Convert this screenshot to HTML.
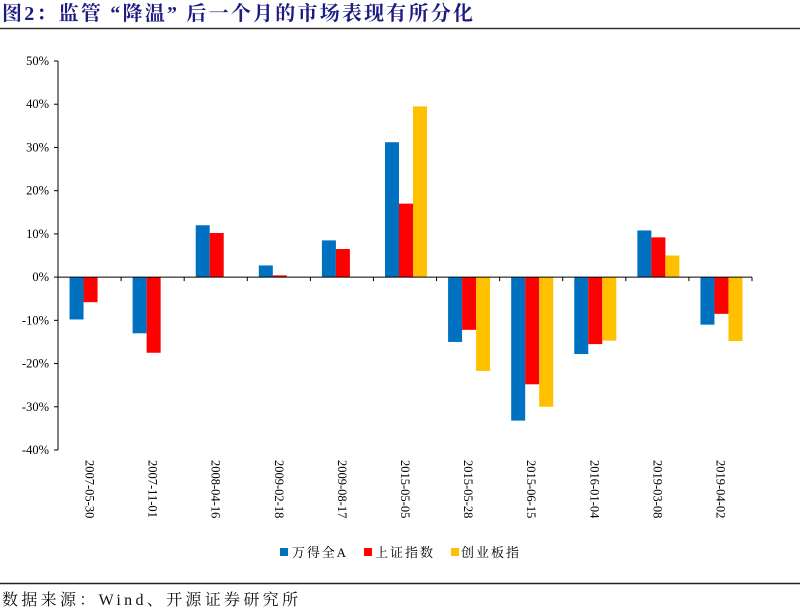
<!DOCTYPE html>
<html><head><meta charset="utf-8"><style>
body{margin:0;background:#fff;width:800px;height:611px;overflow:hidden;font-family:"Liberation Serif","Noto Serif CJK SC",serif;}
</style></head><body>
<svg width="800" height="611" viewBox="0 0 800 611" xmlns="http://www.w3.org/2000/svg">
<text x="2" y="20" font-size="20" font-weight="bold" fill="#1b1b82" textLength="471" lengthAdjust="spacing" font-family="Liberation Serif, Noto Serif CJK SC, serif">图2：监管 “降温” 后一个月的市场表现有所分化</text>
<line x1="0" y1="28.5" x2="800" y2="28.5" stroke="#333" stroke-width="1.5"/>
<g id="plot"></g>
<g>
<g><rect x="280" y="548" width="8" height="8" fill="#0070C0"/><text x="292" y="557" font-size="13" textLength="54" lengthAdjust="spacing">万得全A</text></g>
<g><rect x="364" y="548" width="8" height="8" fill="#FF0000"/><text x="375" y="557" font-size="13" textLength="58" lengthAdjust="spacing">上证指数</text></g>
<g><rect x="451" y="548" width="8" height="8" fill="#FFC000"/><text x="461" y="557" font-size="13" textLength="58" lengthAdjust="spacing">创业板指</text></g>
</g>
<line x1="0" y1="583.5" x2="800" y2="583.5" stroke="#222" stroke-width="1.5"/>
<text x="2" y="605" font-size="16" fill="#111" textLength="296" lengthAdjust="spacing">数据来源：Wind、开源证券研究所</text>
</svg>
<script>
const categories=["2007-05-30","2007-11-01","2008-04-16","2009-02-18","2009-08-17","2015-05-05","2015-05-28","2015-06-15","2016-01-04","2019-03-08","2019-04-02"];
const wandeA=[-9.8,-13,12,2.7,8.5,31.2,-15,-33.2,-17.8,10.8,-11];
const shanghai=[-5.8,-17.5,10.2,0.4,6.5,17,-12.2,-24.8,-15.5,9.2,-8.5];
const chinext=[null,null,null,null,null,39.5,-21.7,-30,-14.7,5,-14.8];
const yTicks=[50,40,30,20,10,0,-10,-20,-30,-40];
const NS="http://www.w3.org/2000/svg";
const g=document.getElementById('plot');
const x0=58,x1=752,yTop=61,yBot=450,vMax=50,vMin=-40;
function y(v){return yTop+(vMax-v)*(yBot-yTop)/(vMax-vMin);}
const bw=(x1-x0)/categories.length;
function mk(t,a){const e=document.createElementNS(NS,t);for(const k in a)e.setAttribute(k,a[k]);g.appendChild(e);return e;}
let ax=mk('line',{x1:x0,y1:yTop,x2:x0,y2:yBot,stroke:'#000','stroke-width':1});


yTicks.forEach(v=>{
 const t=mk('line',{x1:x0-4,y1:y(v),x2:x0,y2:y(v),stroke:'#000'});
 
 
 const l=mk('text',{x:x0-9,y:y(v)+4,'font-size':12.5,'text-anchor':'end'});
 l.textContent=v+'%';
 
 
});
const series=[[wandeA,'#0070C0','wande'],[shanghai,'#FF0000','shanghai'],[chinext,'#FFC000','chinext']];
const w=14;
categories.forEach((c,i)=>{
 const cx=x0+bw*(i+0.5)+1;
 series.forEach((s,j)=>{
  const v=s[0][i]; if(v==null)return;
  const bx=cx-1.5*w+j*w;
  const r=mk('rect',{x:bx,y:Math.min(y(v),y(0)),width:w,height:Math.abs(y(v)-y(0)),fill:s[1]});
  
  
 });
 const tk=mk('line',{x1:x0+bw*(i+1),y1:y(0),x2:x0+bw*(i+1),y2:y(0)+4,stroke:'#000'});
 
 
 const l=mk('text',{x:0,y:0,'font-size':12.5,transform:`translate(${cx-5},460) rotate(90)`});
 l.textContent=c;
 
 
});
let xa=mk('line',{x1:x0,y1:y(0),x2:x1,y2:y(0),stroke:'#000'});


</script>
</body></html>
